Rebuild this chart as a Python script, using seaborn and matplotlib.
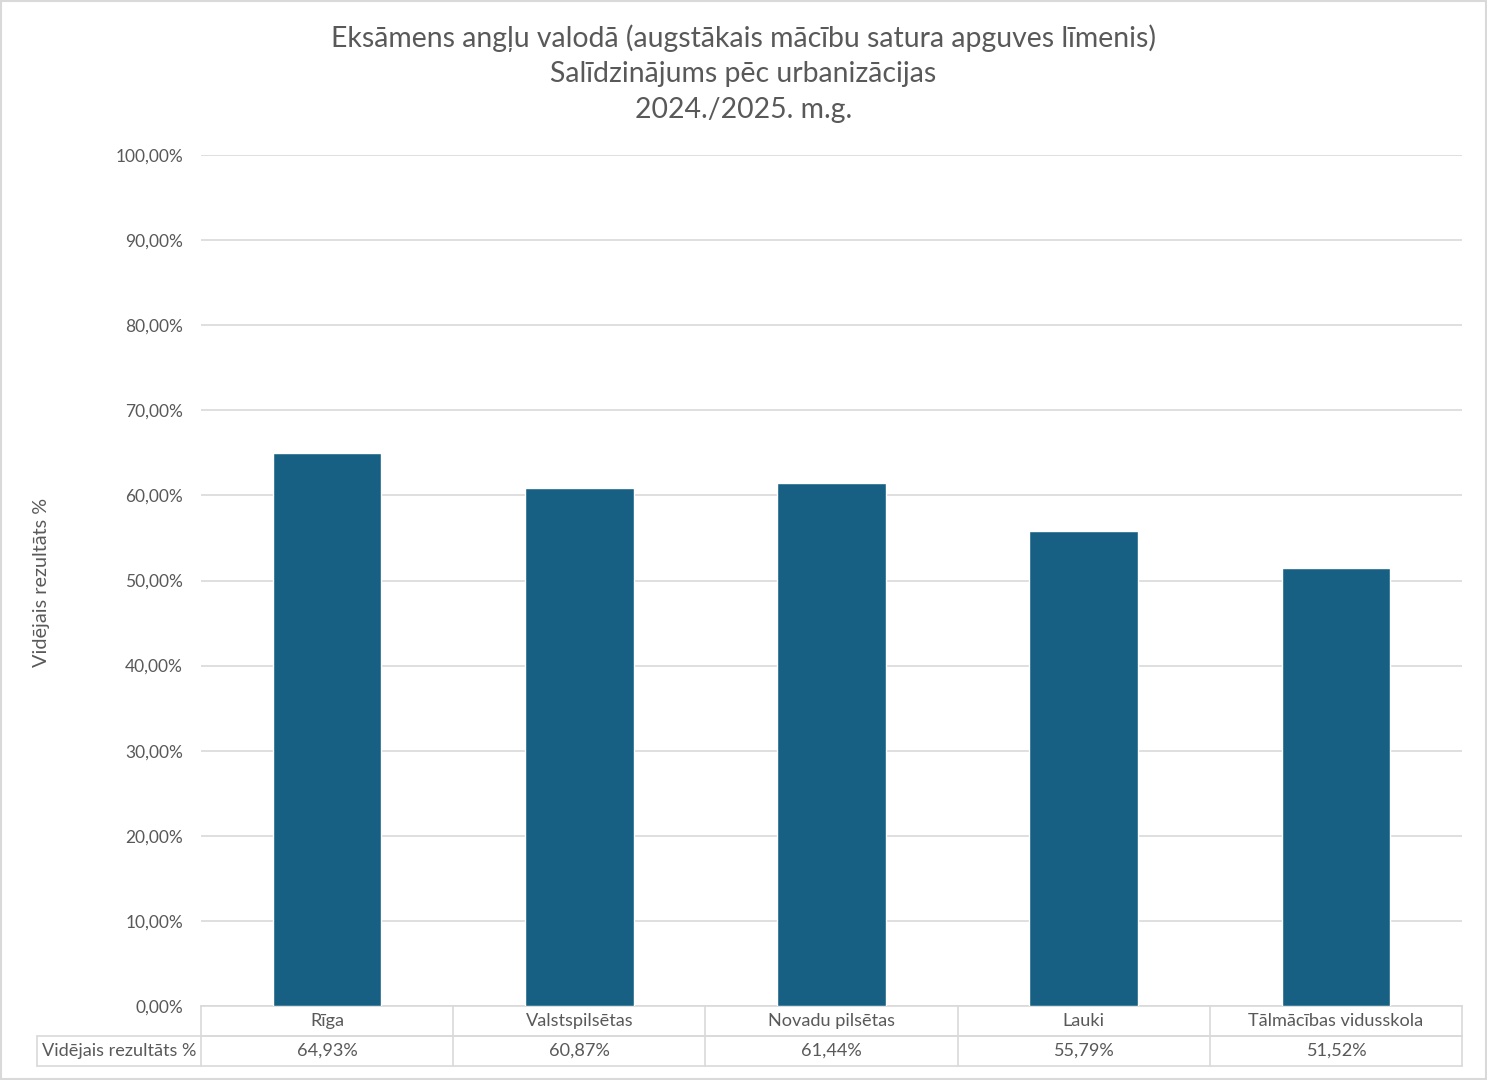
import matplotlib
matplotlib.use("Agg")
import matplotlib.pyplot as plt
from matplotlib.patches import Rectangle
import seaborn as sns
import pandas as pd

categories = ["Rīga", "Valstspilsētas", "Novadu pilsētas", "Lauki", "Tālmācības vidusskola"]
values = [64.93, 60.87, 61.44, 55.79, 51.52]
series_name = "Vidējais rezultāts %"
yticks = [0, 10, 20, 30, 40, 50, 60, 70, 80, 90, 100]
title = ("Eksāmens angļu valodā (augstākais mācību satura apguves līmenis)\n"
         "Salīdzinājums pēc urbanizācijas\n"
         "2024./2025. m.g.")

def pct(v):
    return f"{v:.2f}%".replace(".", ",")

sns.set_style("white")
plt.rcParams["font.family"] = ["Lato", "DejaVu Sans"]

text_col = "#595959"
grid_col = "#D9D9D9"
bar_col = "#176083"

df = pd.DataFrame({"kat": categories, "val": values})

fig = plt.figure(figsize=(14.87, 10.8), dpi=100)
fig.patches.append(Rectangle((0.001, 0.001), 0.998, 0.998, transform=fig.transFigure,
                             fill=False, edgecolor=grid_col, linewidth=1.5))

W, H = 1487, 1080
left, right, top, bottom = 201, 1462, 155, 1006
ax = fig.add_axes([left / W, 1 - bottom / H, (right - left) / W, (bottom - top) / H])

sns.barplot(data=df, x="kat", y="val", color=bar_col, saturation=1, width=0.43, ax=ax, zorder=3)
ax.set_xlim(-0.5, len(categories) - 0.5)
ax.set_ylim(0, 100)
ax.set_yticks(yticks)
ax.set_yticklabels([pct(t) for t in yticks])
ax.yaxis.grid(True, color=grid_col, linewidth=1.2, zorder=0)
ax.tick_params(axis="y", length=0, pad=13, labelsize=12.5, labelcolor=text_col)
ax.tick_params(axis="x", length=0, labelbottom=False)
ax.set_xlabel("")
ax.set_ylabel("")
for s in ["top", "right", "left"]:
    ax.spines[s].set_visible(False)
ax.spines["bottom"].set_color(grid_col)
ax.spines["bottom"].set_linewidth(1.2)

# data table under the plot
row_h = 30 / (bottom - top)
label_w = (left - 37) / (right - left)
xt = ax.get_xaxis_transform()
n = len(categories)
lk = dict(color=grid_col, linewidth=1.2, clip_on=False)
for i in range(n + 1):
    ax.plot([i - 0.5, i - 0.5], [0, -2 * row_h], transform=xt, **lk)
ax.plot([-0.5, n - 0.5], [-row_h, -row_h], transform=xt, **lk)
ax.plot([-label_w, 1], [-row_h, -row_h], transform=ax.transAxes, **lk)
ax.plot([-label_w, 1], [-2 * row_h, -2 * row_h], transform=ax.transAxes, **lk)
ax.plot([-label_w, -label_w], [-row_h, -2 * row_h], transform=ax.transAxes, **lk)
for i, (c, v) in enumerate(zip(categories, values)):
    ax.text(i, -0.5 * row_h, c, transform=xt, ha="center", va="center",
            fontsize=13.1, color=text_col)
    ax.text(i, -1.5 * row_h, pct(v), transform=xt, ha="center", va="center",
            fontsize=13.1, color=text_col)
ax.text(-label_w + 0.004, -1.5 * row_h, series_name, transform=ax.transAxes,
        ha="left", va="center", fontsize=13.1, color=text_col)

fig.text(0.5, 1 - 24 / H, title, ha="center", va="top", fontsize=20.4,
         color=text_col, linespacing=1.47)
fig.text(42 / W, 1 - 582 / H, series_name, rotation=90, ha="center", va="center",
         fontsize=14.3, color=text_col)

fig.savefig("out.png", dpi=100)
